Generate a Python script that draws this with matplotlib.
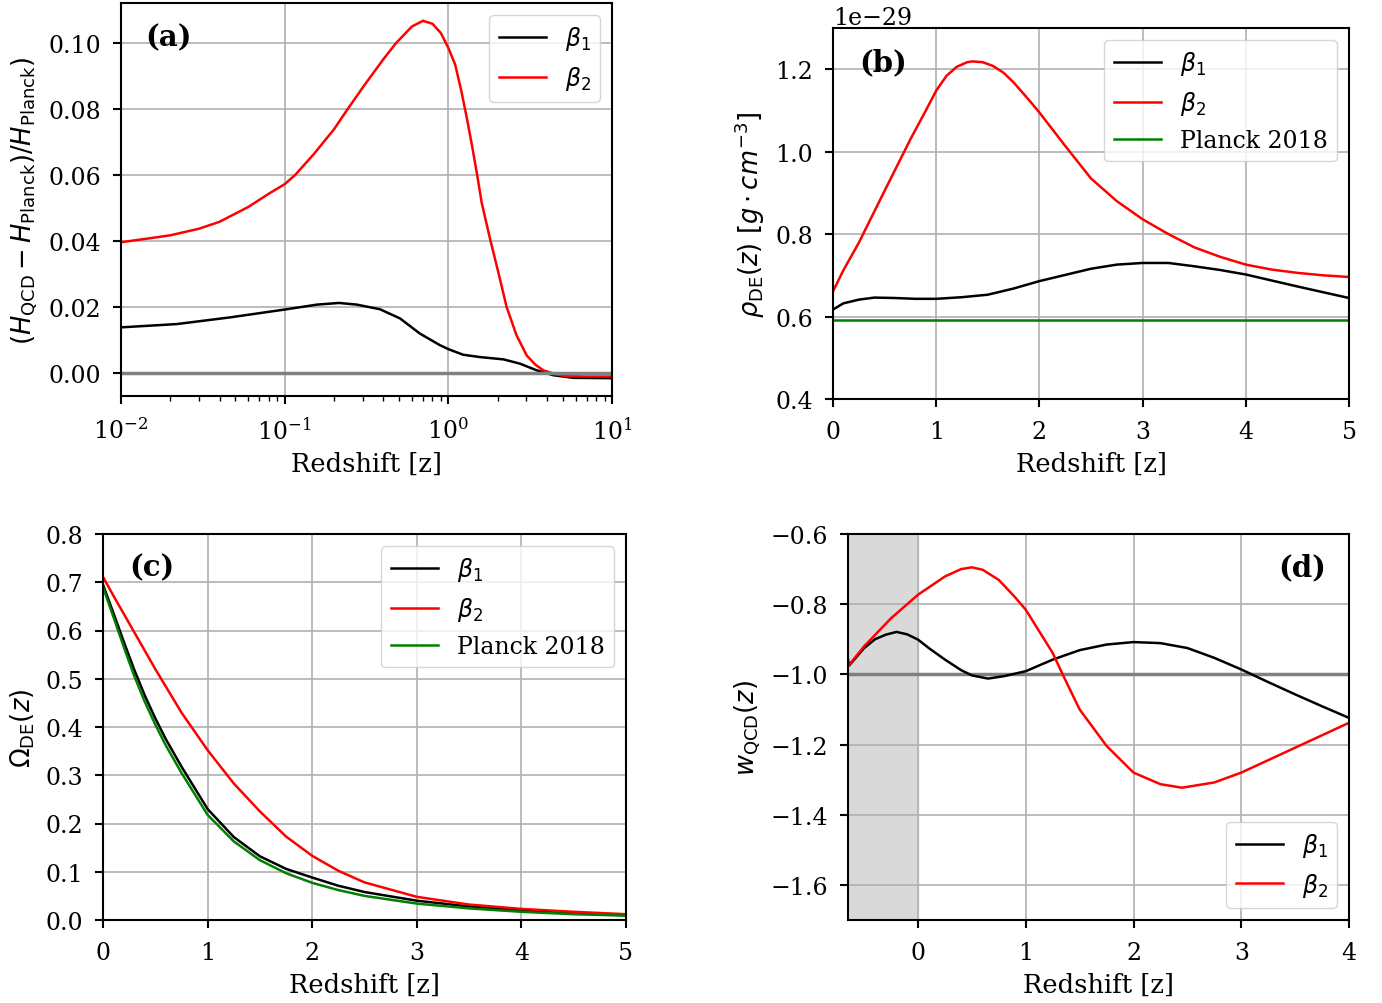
import matplotlib
matplotlib.use("Agg")
import matplotlib.pyplot as plt
import numpy as np

plt.rcParams['font.family'] = ['DejaVu Serif']
plt.rcParams['mathtext.fontset'] = 'dejavusans'
plt.rcParams['axes.linewidth'] = 1.5
plt.rcParams['xtick.major.width'] = 1.5
plt.rcParams['ytick.major.width'] = 1.5
plt.rcParams['xtick.major.size'] = 6
plt.rcParams['ytick.major.size'] = 6
plt.rcParams['xtick.minor.size'] = 3.5
plt.rcParams['xtick.minor.width'] = 1.0
plt.rcParams['xtick.major.pad'] = 9
plt.rcParams['ytick.major.pad'] = 8.5
plt.rcParams['xtick.minor.pad'] = 9
plt.rcParams['axes.labelpad'] = 5.5

# ---------------- Panel (a) ----------------
za_red = [0.01, 0.015, 0.02, 0.03, 0.04, 0.06, 0.08, 0.1, 0.116, 0.15, 0.2, 0.243, 0.3,
          0.4, 0.48, 0.6, 0.7, 0.8, 0.9, 1.0, 1.1, 1.2, 1.3, 1.4, 1.5, 1.6, 1.797, 2.018,
          2.27, 2.61, 3.01, 3.4, 3.80, 4.5, 5.27, 7.0, 10.0]
ha_red = [0.0396, 0.0408, 0.0417, 0.0437, 0.0458, 0.0503, 0.0543, 0.0572, 0.0600, 0.0662,
          0.0738, 0.0800, 0.0865, 0.0950, 0.1000, 0.1050, 0.1067, 0.1058, 0.1030, 0.0985,
          0.0935, 0.0855, 0.0770, 0.0685, 0.0600, 0.0515, 0.0407, 0.0306, 0.0200, 0.0114,
          0.0053, 0.0025, 0.0008, -0.0004, -0.0010, -0.0011, -0.0011]
za_blk = [0.01, 0.0219, 0.046, 0.1, 0.158, 0.215, 0.275, 0.382, 0.507, 0.671, 0.889, 1.0,
          1.233, 1.56, 2.17, 2.74, 3.46, 4.37, 5.8, 10.0]
ha_blk = [0.0138, 0.0148, 0.0168, 0.0192, 0.0207, 0.0212, 0.0207, 0.0193, 0.0165, 0.0119,
          0.0084, 0.0072, 0.0055, 0.0048, 0.0041, 0.0028, 0.0008, -0.0007, -0.0015, -0.0016]

# ---------------- Panel (b) ----------------  (units of 1e-29 g cm^-3)
zb_red = [0, 0.1, 0.25, 0.5, 0.75, 0.9, 1.0, 1.1, 1.2, 1.3, 1.35, 1.45, 1.55, 1.65, 1.75,
          1.9, 2.0, 2.25, 2.5, 2.75, 3.0, 3.25, 3.5, 3.75, 4.0, 4.25, 4.5, 4.75, 5.0]
rb_red = [0.661, 0.712, 0.779, 0.905, 1.030, 1.100, 1.148, 1.184, 1.206, 1.217, 1.219,
          1.217, 1.208, 1.192, 1.168, 1.125, 1.095, 1.014, 0.935, 0.880, 0.836, 0.800,
          0.768, 0.745, 0.726, 0.714, 0.706, 0.700, 0.696]
zb_blk = [0, 0.1, 0.25, 0.4, 0.6, 0.8, 1.0, 1.25, 1.5, 1.75, 2.0, 2.25, 2.5, 2.75, 3.0,
          3.25, 3.5, 3.75, 4.0, 4.5, 5.0]
rb_blk = [0.617, 0.632, 0.641, 0.646, 0.645, 0.643, 0.643, 0.647, 0.653, 0.668, 0.686,
          0.701, 0.716, 0.726, 0.730, 0.730, 0.722, 0.713, 0.702, 0.673, 0.645]
zb_pl = [0, 5]
rb_pl = [0.592, 0.592]

# ---------------- Panel (c) ----------------
zc = [0, 0.1, 0.2, 0.3, 0.4, 0.5, 0.6, 0.75, 1.0, 1.25, 1.5, 1.75, 2.0, 2.25, 2.5, 3.0,
      3.5, 4.0, 4.5, 5.0]
oc_red = [0.711, 0.672, 0.634, 0.596, 0.558, 0.520, 0.484, 0.430, 0.352, 0.283, 0.225,
          0.173, 0.133, 0.102, 0.078, 0.048, 0.032, 0.023, 0.017, 0.012]
oc_blk = [0.695, 0.636, 0.576, 0.518, 0.465, 0.418, 0.375, 0.318, 0.230, 0.172, 0.132,
          0.106, 0.088, 0.071, 0.058, 0.040, 0.028, 0.020, 0.014, 0.010]
oc_pl = [0.690, 0.628, 0.565, 0.505, 0.452, 0.405, 0.362, 0.305, 0.218, 0.163, 0.124,
         0.097, 0.077, 0.062, 0.050, 0.034, 0.024, 0.017, 0.012, 0.009]

# ---------------- Panel (d) ----------------
zd_blk = [-0.65, -0.64, -0.5, -0.4, -0.3, -0.2, -0.1, 0, 0.1, 0.25, 0.4, 0.5, 0.65, 0.8,
          1.0, 1.25, 1.5, 1.75, 2.0, 2.25, 2.5, 2.75, 3.0, 3.25, 3.5, 3.75, 4.0]
wd_blk = [-0.958, -0.975, -0.925, -0.900, -0.887, -0.879, -0.886, -0.901, -0.925, -0.958,
          -0.988, -1.003, -1.012, -1.005, -0.991, -0.958, -0.931, -0.915, -0.908, -0.911,
          -0.925, -0.953, -0.986, -1.022, -1.057, -1.091, -1.124]
zd_red = [-0.65, -0.5, -0.25, 0, 0.25, 0.4, 0.5, 0.6, 0.75, 0.9, 1.0, 1.1, 1.25, 1.35,
          1.5, 1.75, 2.0, 2.25, 2.45, 2.75, 3.0, 3.5, 4.0]
wd_red = [-0.977, -0.920, -0.840, -0.773, -0.721, -0.700, -0.695, -0.702, -0.731, -0.780,
          -0.816, -0.865, -0.939, -1.005, -1.100, -1.204, -1.280, -1.313, -1.323, -1.308,
          -1.280, -1.209, -1.138]

lab1 = r'$\beta_1$'
lab2 = r'$\beta_2$'
lab3 = 'Planck 2018'
TICK = 17
LAB = 18.5
LEG = 17
LW = 1.8

fig = plt.figure(figsize=(13.82, 10.04), dpi=100)
W, H = 1382, 1004


def add_ax(l, t, r, b):
    return fig.add_axes([l / W, 1 - b / H, (r - l) / W, (b - t) / H])


def style(ax):
    ax.grid(True, color='#b0b0b0', linewidth=1.2)
    ax.tick_params(labelsize=TICK)
    ax.set_xlabel('Redshift [z]', fontsize=LAB)


def panel_label(ax, s, x, y, ha='left'):
    ax.text(x, y, s, transform=ax.transAxes, fontsize=21, fontweight='bold',
            va='center', ha=ha)


# (a)
ax = add_ax(121, 4, 612, 397)
ax.plot(za_blk, ha_blk, color='black', lw=LW, label=lab1)
ax.plot(za_red, ha_red, color='red', lw=LW, label=lab2)
ax.axhline(0, color='gray', lw=2.5)
ax.set_xscale('log')
ax.set_xlim(1e-2, 1e1)
ax.set_ylim(-0.007, 0.1121)
ax.set_yticks([0.0, 0.02, 0.04, 0.06, 0.08, 0.10])
ax.set_yticklabels(['0.00', '0.02', '0.04', '0.06', '0.08', '0.10'])
style(ax)
ax.set_ylabel(r'$(H_{\rm QCD} - H_{\rm Planck})/H_{\rm Planck})$', fontsize=LAB)
ax.legend(loc='upper right', fontsize=LEG)
panel_label(ax, '(a)', 0.05, 0.915)

# (b)
ax = add_ax(833, 29, 1349, 400)
ax.plot(zb_blk, np.array(rb_blk) * 1e-29, color='black', lw=LW, label=lab1)
ax.plot(zb_red, np.array(rb_red) * 1e-29, color='red', lw=LW, label=lab2)
ax.plot(zb_pl, np.array(rb_pl) * 1e-29, color='green', lw=LW, label=lab3)
ax.set_xlim(0, 5)
ax.set_ylim(0.4e-29, 1.3e-29)
ax.set_yticks(np.array([0.4, 0.6, 0.8, 1.0, 1.2]) * 1e-29)
style(ax)
ax.yaxis.get_offset_text().set_fontsize(TICK)
ax.set_ylabel(r'$\rho_{\rm DE}(z)\ [g \cdot cm^{-3}]$', fontsize=LAB)
ax.legend(loc='upper right', fontsize=LEG)
panel_label(ax, '(b)', 0.05, 0.91)

# (c)
ax = add_ax(103, 535, 626, 921)
ax.plot(zc, oc_blk, color='black', lw=LW, label=lab1)
ax.plot(zc, oc_red, color='red', lw=LW, label=lab2)
ax.plot(zc, oc_pl, color='green', lw=LW, label=lab3)
ax.set_xlim(0, 5)
ax.set_ylim(0, 0.8)
style(ax)
ax.set_ylabel(r'$\Omega_{\rm DE}(z)$', fontsize=LAB)
ax.legend(loc='upper right', fontsize=LEG)
panel_label(ax, '(c)', 0.05, 0.915)

# (d)
ax = add_ax(848, 535, 1349, 921)
ax.axvspan(-0.65, 0, color='#d9d9d9', zorder=0)
ax.axhline(-1.0, color='gray', lw=2.5)
ax.plot(zd_blk, wd_blk, color='black', lw=LW, label=lab1)
ax.plot(zd_red, wd_red, color='red', lw=LW, label=lab2)
ax.set_xlim(-0.65, 4)
ax.set_ylim(-1.7, -0.6)
ax.set_xticks([0, 1, 2, 3, 4])
ax.set_yticks([-1.6, -1.4, -1.2, -1.0, -0.8, -0.6])
style(ax)
ax.set_ylabel(r'$w_{\rm QCD}(z)$', fontsize=LAB)
ax.legend(loc='lower right', fontsize=LEG)
panel_label(ax, '(d)', 0.955, 0.915, ha='right')

fig.savefig('out.png', dpi=100)
